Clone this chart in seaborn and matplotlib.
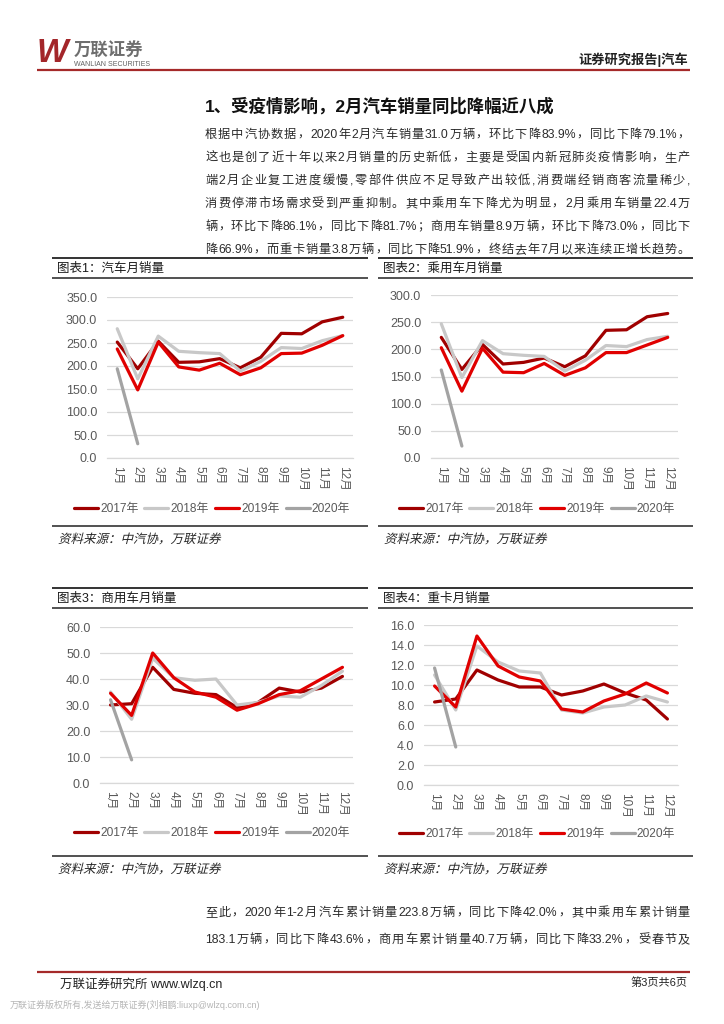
import re
import numpy as np
import pandas as pd
import matplotlib
matplotlib.use("Agg")
import matplotlib.pyplot as plt
import seaborn as sns
from matplotlib.lines import Line2D
from matplotlib.font_manager import FontProperties
from matplotlib.textpath import TextPath
from matplotlib.patches import PathPatch
from matplotlib.transforms import Affine2D

# ------------------------------
# Data (万辆)
# ------------------------------
months = ["1月", "2月", "3月", "4月", "5月", "6月", "7月", "8月", "9月", "10月", "11月", "12月"]
years = ["2017年", "2018年", "2019年", "2020年"]

auto_2017 = [252, 194, 254, 208, 209, 216, 196, 219, 271, 270, 296, 306]
auto_2018 = [281, 172, 265, 232, 229, 227, 189, 210, 240, 238, 255, 266]
auto_2019 = [237, 148, 252, 198, 191, 206, 181, 196, 227, 228, 245, 266]
auto_2020 = [194, 31]

pv_2017 = [222, 163, 209, 173, 176, 184, 168, 188, 235, 236, 260, 266]
pv_2018 = [247, 148, 216, 192, 189, 187, 160, 180, 207, 205, 218, 224]
pv_2019 = [203, 123, 202, 158, 157, 174, 152, 166, 194, 194, 208, 222]
pv_2020 = [162, 22]

cv_2017 = [30.0, 30.5, 44.5, 36.0, 34.5, 34.0, 29.0, 31.0, 36.5, 35.0, 36.5, 41.0]
cv_2018 = [35.0, 24.5, 48.0, 40.5, 39.5, 40.0, 30.0, 31.0, 33.5, 33.0, 37.5, 43.0]
cv_2019 = [34.5, 26.0, 50.0, 40.5, 35.0, 33.0, 28.0, 30.5, 34.0, 35.5, 40.0, 44.5]
cv_2020 = [32.0, 8.9]

hd_2017 = [8.3, 8.6, 11.5, 10.5, 9.8, 9.8, 9.0, 9.4, 10.1, 9.2, 8.5, 6.6]
hd_2018 = [11.0, 7.5, 13.9, 12.3, 11.4, 11.2, 7.5, 7.2, 7.8, 8.0, 8.9, 8.3]
hd_2019 = [9.9, 7.8, 14.9, 11.9, 10.8, 10.4, 7.6, 7.3, 8.4, 9.1, 10.2, 9.2]
hd_2020 = [11.7, 3.8]

title_main = "1、受疫情影响，2月汽车销量同比降幅近八成"
body_lines = [
    "根据中汽协数据，2020年2月汽车销量31.0万辆，环比下降83.9%，同比下降79.1%，",
    "这也是创了近十年以来2月销量的历史新低，主要是受国内新冠肺炎疫情影响，生产",
    "端2月企业复工进度缓慢,零部件供应不足导致产出较低,消费端经销商客流量稀少,",
    "消费停滞市场需求受到严重抑制。其中乘用车下降尤为明显，2月乘用车销量22.4万",
    "辆，环比下降86.1%，同比下降81.7%；商用车销量8.9万辆，环比下降73.0%，同比下",
    "降66.9%，而重卡销量3.8万辆，同比下降51.9%，终结去年7月以来连续正增长趋势。",
]
footer_lines = [
    "至此，2020年1-2月汽车累计销量223.8万辆，同比下降42.0%，其中乘用车累计销量",
    "183.1万辆，同比下降43.6%，商用车累计销量40.7万辆，同比下降33.2%，受春节及",
]
chart_titles = ["图表1：汽车月销量", "图表2：乘用车月销量", "图表3：商用车月销量", "图表4：重卡月销量"]
source_text = "资料来源：中汽协，万联证券"

palette = {"2017年": "#A00000", "2018年": "#C8C8C8", "2019年": "#E00000", "2020年": "#A3A3A3"}

# ------------------------------
# Page setup
# ------------------------------
sns.set_theme(style="white")
plt.rcParams['font.family'] = ['Liberation Sans', 'Noto Sans CJK SC', 'DejaVu Sans']

W, H = 724, 1024
fig = plt.figure(figsize=(7.24, 10.24), dpi=100)
renderer = fig.canvas.get_renderer()
fam = ['Liberation Sans', 'Noto Sans CJK SC']


def fx(x):
    return x / W


def fy(y):
    return 1 - y / H


def hline(x0, x1, y, color="#333333", lw=1.2):
    fig.add_artist(Line2D([fx(x0), fx(x1)], [fy(y), fy(y)], transform=fig.transFigure,
                          color=color, lw=lw, solid_capstyle="butt"))


def justify(s, x0, x1, y, size=8.8, color="#2B2B2B"):
    # spread tokens over the full line width (CJK chars one by one, ascii runs kept together)
    fp = FontProperties(family=fam, size=size)
    tokens = re.findall(r"[A-Za-z0-9.%\-]+|.", s)
    widths = [renderer.get_text_width_height_descent(t, fp, ismath=False)[0] for t in tokens]
    gap = (x1 - x0 - sum(widths)) / (len(tokens) - 1)
    x = x0
    for t, w in zip(tokens, widths):
        fig.text(fx(x), fy(y), t, fontproperties=fp, color=color, ha="left", va="center")
        x += w + gap


def slanted(s, x, y, size=9, color="#262626"):
    fp = FontProperties(family="Noto Sans CJK SC", size=size)
    path = TextPath((0, 0), s, size=size * 100 / 72, prop=fp)
    tr = Affine2D().skew_deg(14, 0).translate(x, H - y - size * 0.45)
    fig.add_artist(PathPatch(path, transform=tr, facecolor=color, edgecolor="none"))


# ------------------------------
# Header
# ------------------------------
fig.text(fx(37), fy(54), "W", fontsize=24, fontweight="bold", fontstyle="italic",
         color="#A3262A", ha="left", va="center", family="Liberation Sans")
fig.text(fx(74), fy(51), "万联证券", fontsize=12.5, fontweight="bold", color="#6E6E6E",
         ha="left", va="center", family="Noto Sans CJK SC")
fig.text(fx(74), fy(64), "WANLIAN SECURITIES", fontsize=5, color="#606060",
         ha="left", va="center", family="Liberation Sans")
fig.text(fx(688), fy(60), "证券研究报告|汽车", fontsize=9.5, fontweight="bold", color="#222222",
         ha="right", va="center", family=fam)
hline(37, 690, 70, color="#A52A2A", lw=1.6)

# ------------------------------
# Title and text
# ------------------------------
fig.text(fx(205), fy(106), title_main, fontsize=12.5, fontweight="bold", color="#111111",
         ha="left", va="center", family=fam)
for i, line in enumerate(body_lines):
    justify(line, 205, 690, 135 + 23 * i)
for i, line in enumerate(footer_lines):
    justify(line, 205, 690, 913 + 27 * i)


# ------------------------------
# Charts
# ------------------------------
def draw_chart(rect, series, ymax, ystep, legend_xy):
    rows = []
    for yr, vals in zip(years, series):
        for m, v in enumerate(vals):
            rows.append({"month": m, "value": v, "year": yr})
    df = pd.DataFrame(rows)

    ax = fig.add_axes(rect)
    sns.lineplot(data=df, x="month", y="value", hue="year", hue_order=years,
                 palette=palette, linewidth=2.3, errorbar=None, legend=False, ax=ax)

    ax.set_xlim(-0.5, 11.5)
    ax.set_ylim(0, ymax)
    yt = np.arange(0, ymax + ystep / 2, ystep)
    ax.set_yticks(yt)
    ax.set_yticklabels([f"{v:.1f}" for v in yt])
    ax.set_xticks(range(12))
    ax.set_xticklabels(months)
    ax.set_xticks(np.arange(-0.5, 12, 1), minor=True)
    ax.set_xlabel("")
    ax.set_ylabel("")
    ax.yaxis.grid(True, color="#D9D9D9", lw=0.9)
    ax.xaxis.grid(False)
    for sp in ["left", "top", "right"]:
        ax.spines[sp].set_visible(False)
    ax.spines["bottom"].set_color("#D9D9D9")
    ax.spines["bottom"].set_linewidth(0.9)
    ax.tick_params(axis="y", length=0, pad=7, labelsize=9, labelcolor="#595959")
    ax.tick_params(axis="x", which="major", length=0, pad=6, labelsize=8.5,
                   labelcolor="#595959", labelrotation=-90)
    ax.tick_params(axis="x", which="minor", length=4, width=0.9, color="#D9D9D9", direction="out")
    ax.patch.set_alpha(0)

    fig.legend(ax.lines[:4], years, loc="center", bbox_to_anchor=(fx(legend_xy[0]), fy(legend_xy[1])),
               ncol=4, frameon=False, fontsize=8.6, handlelength=2.0, handletextpad=0.2,
               columnspacing=0.5, labelcolor="#595959")
    return ax


draw_chart([fx(107), fy(458), fx(353) - fx(107), fy(297) - fy(458)],
           [auto_2017, auto_2018, auto_2019, auto_2020], 350, 50, (212, 509))
draw_chart([fx(431), fy(458), fx(678) - fx(431), fy(295) - fy(458)],
           [pv_2017, pv_2018, pv_2019, pv_2020], 300, 50, (537, 509))
draw_chart([fx(100), fy(783), fx(353) - fx(100), fy(627) - fy(783)],
           [cv_2017, cv_2018, cv_2019, cv_2020], 60, 10, (212, 833))
draw_chart([fx(424), fy(785), fx(678) - fx(424), fy(625) - fy(785)],
           [hd_2017, hd_2018, hd_2019, hd_2020], 16, 2, (537, 834))

# panel frames, titles and sources
panels = [(52, 368, 258, 0), (378, 693, 258, 1), (52, 368, 588, 2), (378, 693, 588, 3)]
for x0, x1, ytop, k in panels:
    hline(x0, x1, ytop, color="#333333", lw=1.4)
    hline(x0, x1, ytop + 20, color="#333333", lw=1.2)
    hline(x0, x1, ytop + 268, color="#333333", lw=1.2)
    fig.text(fx(x0 + 5), fy(ytop + 11), chart_titles[k], fontsize=9, color="#1A1A1A",
             ha="left", va="center", family=fam)
    slanted(source_text, x0 + 6, ytop + 281)

# ------------------------------
# Footer
# ------------------------------
hline(37, 690, 972, color="#A52A2A", lw=1.6)
fig.text(fx(60), fy(984), "万联证券研究所 www.wlzq.cn", fontsize=9, color="#222222",
         ha="left", va="center", family=fam)
fig.text(fx(688), fy(983), "第3页共6页", fontsize=8, color="#222222",
         ha="right", va="center", family=fam)
fig.text(fx(10), fy(1005), "万联证券版权所有,发送给万联证券(刘相鹏:liuxp@wlzq.com.cn)", fontsize=6.5,
         color="#B5B5B5", ha="left", va="center", family=fam)

plt.savefig("out.png", dpi=100)
